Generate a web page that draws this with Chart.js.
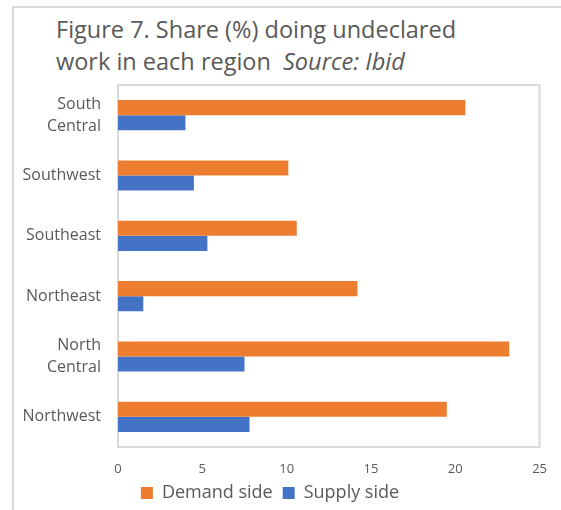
<!DOCTYPE html>
<html lang="en">
<head>
  <meta charset="UTF-8" />
  <title>Figure 7</title>
  <script src="https://cdn.jsdelivr.net/npm/chart.js"></script>
  <style>
    html, body {
      margin: 0;
      padding: 0;
      background: #ffffff;
      font-family: 'Open Sans', sans-serif;
    }

    .wrap {
      position: relative;
      width: 561px;
      height: 510px;
      overflow: hidden;
    }

    .frame {
      position: absolute;
      left: 12px;
      top: 6px;
      width: 700px;
      height: 700px;
      border-left: 2px solid #d9d9d9;
      border-top: 2px solid #d9d9d9;
    }

    .title {
      position: absolute;
      left: 56px;
      top: 13px;
      font-size: 23.5px;
      line-height: 32px;
      color: #595959;
      white-space: nowrap;
    }

    .title i {
      margin-left: 6px;
    }

    canvas {
      position: absolute;
      left: 0;
      top: 0;
    }
  </style>
</head>
<body>
  <div class="wrap">
    <div class="frame"></div>
    <div class="title">Figure 7. Share (%) doing undeclared<br>work in each region <i>Source: Ibid</i></div>
    <canvas id="chart" width="561" height="510"></canvas>
  </div>

  <script>
    const regions = [['South', 'Central'], 'Southwest', 'Southeast', 'Northeast', ['North', 'Central'], 'Northwest'];
    const demandSide = [20.6, 10.1, 10.6, 14.2, 23.2, 19.5];
    const supplySide = [4.0, 4.5, 5.3, 1.5, 7.5, 7.8];
    const xTicks = [0, 5, 10, 15, 20, 25];

    // light grey box round the plot area, like the original
    const areaBorder = {
      id: 'areaBorder',
      beforeDatasetsDraw(chart) {
        const { ctx, chartArea: a } = chart;
        ctx.save();
        ctx.strokeStyle = '#d9d9d9';
        ctx.lineWidth = 2;
        ctx.strokeRect(a.left, a.top, a.right - a.left, a.bottom - a.top);
        ctx.restore();
      }
    };

    new Chart(document.getElementById('chart'), {
      type: 'bar',
      data: {
        labels: regions,
        datasets: [{
          label: 'Demand side',
          data: demandSide,
          backgroundColor: '#ed7d31'
        }, {
          label: 'Supply side',
          data: supplySide,
          backgroundColor: '#4472c4'
        }]
      },
      options: {
        indexAxis: 'y',
        responsive: false,
        animation: false,
        layout: { padding: { top: 85, right: 21, left: 0, bottom: -2 } },
        datasets: {
          bar: { categoryPercentage: 0.5, barPercentage: 1 }
        },
        scales: {
          x: {
            min: 0,
            max: 25,
            afterBuildTicks(scale) {
              scale.ticks = xTicks.map(v => ({ value: v }));
            },
            afterFit(scale) { scale.height = 27; },
            grid: { display: false, drawTicks: false },
            border: { display: false },
            ticks: {
              padding: 14,
              color: '#595959',
              font: { family: 'Open Sans', size: 13 }
            }
          },
          y: {
            afterFit(scale) { scale.width = 118; },
            grid: { display: false, drawTicks: false },
            border: { display: false },
            ticks: {
              padding: 17,
              color: '#595959',
              font: { family: 'Open Sans', size: 16, lineHeight: 1.4 }
            }
          }
        },
        plugins: {
          legend: {
            position: 'bottom',
            labels: {
              boxWidth: 12,
              boxHeight: 12,
              padding: 10,
              color: '#595959',
              font: { family: 'Open Sans', size: 18 }
            }
          },
          tooltip: { enabled: false }
        }
      },
      plugins: [areaBorder]
    });
  </script>
</body>
</html>
